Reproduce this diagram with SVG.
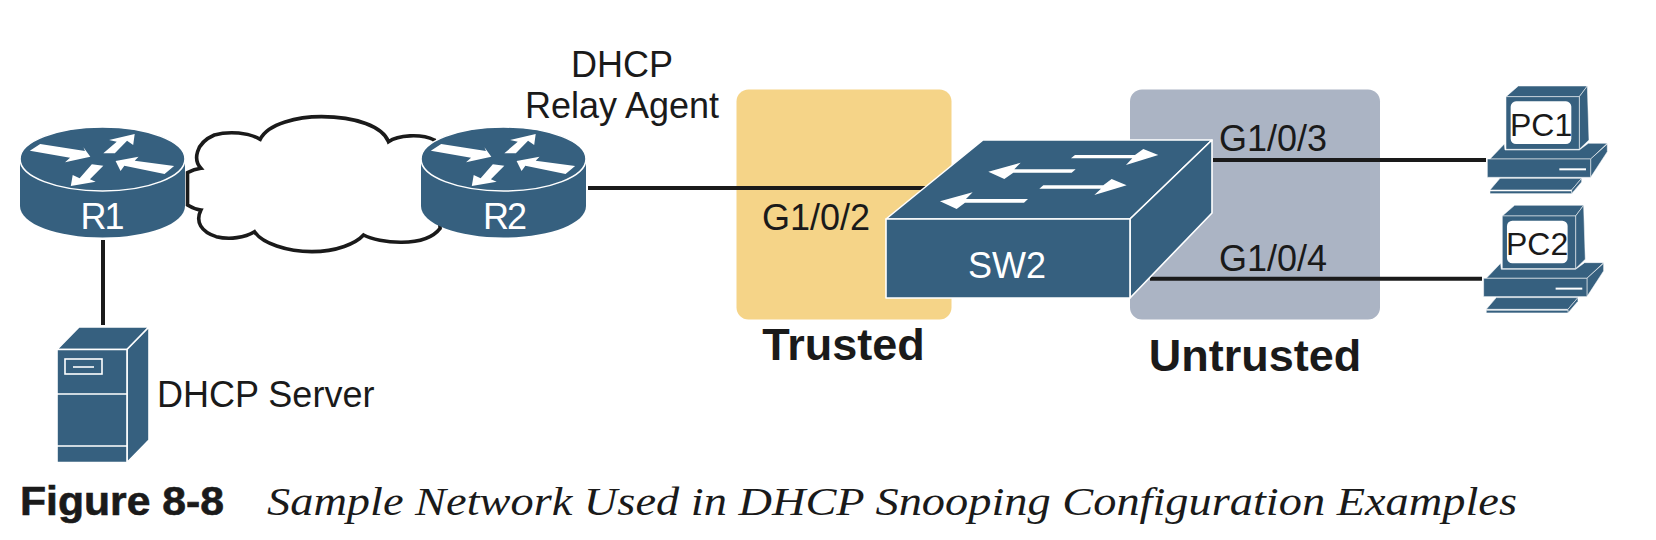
<svg xmlns="http://www.w3.org/2000/svg" xmlns:xlink="http://www.w3.org/1999/xlink" width="1656" height="540" viewBox="0 0 1656 540">
<style>
.t{font-family:"Liberation Sans",Arial,sans-serif;font-size:36px;fill:#1a1a1a}
.w{font-family:"Liberation Sans",Arial,sans-serif;font-size:36px;fill:#fff;text-anchor:middle}
.b{font-family:"Liberation Sans",Arial,sans-serif;font-weight:bold;fill:#1a1a1a}
.s{fill:#36607f;stroke:#fff;stroke-width:1.6;stroke-linejoin:round}
.a{fill:#fff}
.l{stroke:#1a1a1a;stroke-width:4;fill:none}
.c{stroke:#1a1a1a;stroke-width:3.6;fill:#fff;stroke-linecap:round;stroke-linejoin:miter}
</style>
<defs>
<g id="router">
<path d="M20 159V206C20 224 57 237.500 102.500 237.500S185 224 185 206V159Z" fill="#36607f"/>
<ellipse cx="102.500" cy="159" rx="82.500" ry="32" class="s"/>
<g transform="scale(.3827 .3333) translate(0 300)" class="a">
<polygon points="78,152 105,132 222,153 218,142 236,170 170,187 183,173"/>
<polygon points="270,160 305,125 285,120 352,102 348,135 332,122 300,160"/>
<polygon points="302,183 362,170 352,182 455,198 430,222 325,197 315,213"/>
<polygon points="185,258 190,225 208,235 240,193 270,197 235,238 250,245"/>
</g>
</g>
<g id="pc">
<g transform="translate(1470 80) scale(.3333)">
<polygon class="s" points="108,50 145,18 352,18 328,50"/>
<polygon class="s" points="328,50 352,18 357,180 328,208"/>
<rect class="s" x="108" y="50" width="220" height="158"/>
<rect x="122" y="64" width="182" height="128" rx="16" fill="#fff"/>
<polygon class="s" points="60,237 103,192 105,210 328,210 355,190 412,190 362,237"/>
<polygon class="s" points="362,237 412,192 412,215 362,292"/>
<rect class="s" x="52" y="237" width="310" height="55"/>
<rect x="268" y="265" width="80" height="6" fill="#fff"/>
<polygon class="s" points="60,330 90,295 335,295 305,330"/>
<polygon class="s" points="305,330 335,295 335,306 305,341"/>
<rect class="s" x="60" y="333" width="245" height="8"/>
</g>
</g>
</defs>
<rect width="1656" height="540" fill="#fff"/>
<g id="zones">
<rect id="trusted-zone" x="736.500" y="89.500" width="215" height="230" rx="12" fill="#f5d488"/>
<rect id="untrusted-zone" x="1130" y="89.500" width="250" height="230" rx="12" fill="#abb4c4"/>
</g>
<g id="connectors">
<path class="l" d="M103 240V325"/>
<path class="l" d="M588 188H930"/>
<path class="l" d="M1213 160H1486"/>
<path class="l" d="M1150 278.700H1482"/>
</g>
<g id="cloud">
<g transform="translate(0 100) scale(.3827 .3333)">
<path class="c" vector-effect="non-scaling-stroke" d="M490 218C500 212 512 207 525 205C505 180 510 130 560 105C600 92 650 98 680 118C700 70 780 50 840 50C930 50 1000 80 1015 125C1040 105 1100 100 1135 120L1150 385C1110 445 990 430 950 405C930 430 880 455 815 455C750 455 685 430 665 395C640 413 600 420 565 410C525 395 510 365 525 330C510 328 500 322 490 315Z"/>
</g>
</g>
<g id="R1"><use xlink:href="#router" href="#router"/><text class="w" x="101.500" y="229" letter-spacing="-2">R1</text></g>
<g id="R2"><use xlink:href="#router" href="#router" x="401"/><text class="w" x="504" y="229" letter-spacing="-2">R2</text></g>
<g id="server">
<polygon class="s" points="57,349.500 79,327 149,327 127,349.500"/>
<polygon class="s" points="127,349.500 149,327 149,440 127,462.500"/>
<rect class="s" x="57" y="349.500" width="70" height="113"/>
<path d="M57 394H127M57 446H127" stroke="#fff" stroke-width="1.600"/>
<rect x="65" y="359" width="37" height="15" fill="none" stroke="#fff" stroke-width="1.600"/>
<path d="M73 367H94" stroke="#fff" stroke-width="1.600"/>
<text class="t" x="157" y="406.500">DHCP Server</text>
</g>
<g id="SW2">
<polygon class="s" points="886,219 983,140 1212,140 1130,219"/>
<polygon class="s" points="1130,219 1212,140 1212,213 1130,298"/>
<rect class="s" x="886" y="219" width="244" height="79"/>
<g transform="translate(820 110) scale(.3333)" class="a">
<polygon points="753,145 765,135 945,135 970,117 1015,135 918,165 937,145"/>
<polygon points="505,185 602,158 583,178 767,178 755,188 580,188 553,207"/>
<polygon points="658,236 670,226 850,226 875,207 920,226 823,255 843,236"/>
<polygon points="360,274 458,247 438,267 624,267 612,278 435,278 410,297"/>
</g>
<text class="w" x="1007" y="278">SW2</text>
</g>
<g id="PC1"><use xlink:href="#pc" href="#pc"/><text class="t" x="1510" y="135.500" style="font-size:32px">PC1</text></g>
<g id="PC2"><use xlink:href="#pc" href="#pc" x="-3.700" y="119.300"/><text class="t" x="1506" y="254.800" style="font-size:32px">PC2</text></g>
<g id="labels">
<text class="t" x="622" y="77" text-anchor="middle">DHCP</text>
<text class="t" x="622" y="118" text-anchor="middle">Relay Agent</text>
<text class="t" x="762" y="229.500">G1/0/2</text>
<text class="t" x="1219" y="150.700">G1/0/3</text>
<text class="t" x="1219" y="271">G1/0/4</text>
<text class="b" x="843.500" y="360" text-anchor="middle" style="font-size:45px">Trusted</text>
<text class="b" x="1255" y="370.500" text-anchor="middle" style="font-size:45px">Untrusted</text>
<text class="b" x="20" y="515" style="font-size:40px;stroke:#1a1a1a;stroke-width:.6" textLength="204" lengthAdjust="spacingAndGlyphs">Figure 8-8</text>
<text x="267" y="515" style="font-family:'Liberation Serif','Times New Roman',serif;font-style:italic;font-size:41px;fill:#1a1a1a" textLength="1250" lengthAdjust="spacingAndGlyphs">Sample Network Used in DHCP Snooping Configuration Examples</text>
</g>
</svg>
